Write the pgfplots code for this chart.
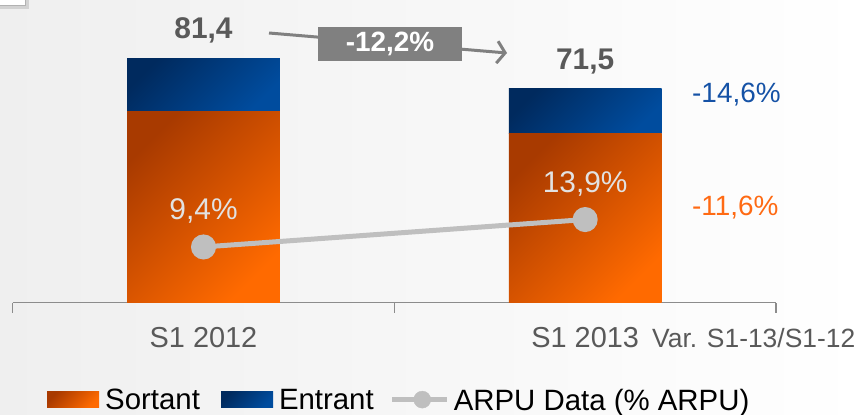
\documentclass[border=0pt]{standalone}
\usepackage{fontspec}
\setmainfont{Liberation Sans}
\usepackage{pgfplots}
\pgfplotsset{compat=1.18}
\usetikzlibrary{arrows.meta}

\definecolor{orDark}{HTML}{A83A00}
\definecolor{orLight}{HTML}{FF6A00}
\definecolor{blDark}{HTML}{002A5E}
\definecolor{blLight}{HTML}{004C9E}
\definecolor{txtGray}{HTML}{595959}
\definecolor{lineGray}{HTML}{BFBFBF}
\definecolor{axGray}{HTML}{8C8C8C}
\definecolor{arrGray}{HTML}{808080}
\definecolor{varBlue}{HTML}{1552A6}
\definecolor{varOrange}{HTML}{FF6A13}
\definecolor{bgLeft}{HTML}{EFEFEF}
\definecolor{lblWhite}{HTML}{E2E2E2}

\newcommand{\fs}[1]{\fontsize{#1}{#1}\selectfont}

\tikzset{
  sortant/.style={draw=none, top color=orDark, bottom color=orLight, shading angle=45},
  entrant/.style={draw=none, top color=blDark, bottom color=blLight, shading angle=45},
}
\pgfplotsset{
  frame/.style={at={(12.7bp,112.3bp)}, anchor=south west,
    scale only axis, width=763.3bp, height=299.4bp,
    xmin=-0.5, xmax=1.5, clip=false},
}

\begin{document}
\begin{tikzpicture}
\useasboundingbox (0,0) rectangle (864bp,415bp);
\shade[left color=bgLeft, right color=white] (0,0) rectangle (864bp,415bp);
% corner of a box in the top left
\fill[gray!35] (0,406bp) rectangle (29bp,415bp);
\fill[white, draw=gray!60] (-1bp,410bp) rectangle (25bp,416bp);

% S1 2012 bars, axis line and legend
\begin{axis}[frame, ymin=0, ymax=100,
  ybar stacked, bar width=0.4,
  axis y line=none,
  axis x line*=bottom,
  axis line style={axGray, line width=1.5bp, -},
  xtick={-0.5,0.5,1.5}, xticklabels={},
  tick align=outside, major tick length=10bp,
  tick style={axGray, line width=1.5bp},
  extra x ticks={0,1},
  extra x tick labels={S1 2012, S1 2013},
  extra x tick style={tick style={draw=none}},
  xticklabel style={font=\fs{29}, text=txtGray, anchor=base, yshift=-34.5bp},
  legend style={at={(0.045,-0.326)}, anchor=west, draw=none, fill=none,
    inner sep=0pt, font=\fs{29.5}, nodes={inner sep=0pt},
    /tikz/every odd column/.append style={column sep=6bp},
    /tikz/every even column/.append style={column sep=21bp}},
  legend columns=3,
]
\addplot[sortant,
  legend image code/.code={\fill[sortant] (0bp,-7bp) rectangle (52bp,9bp);}]
  coordinates {(0,63.8)};
\addplot[entrant,
  legend image code/.code={\fill[entrant] (0bp,-7bp) rectangle (52bp,9bp);}]
  coordinates {(0,17.6)};
\addlegendimage{legend image code/.code={
  \draw[lineGray, line width=5bp] (0bp,0.7bp) -- (55bp,0.7bp);
  \fill[lineGray] (30bp,0.7bp) circle (8.5bp);}}
\legend{Sortant, Entrant\kern-5bp\relax, \kern-2bp\relax ARPU Data (\% ARPU)}

\node[font=\bfseries\fs{30}, text=txtGray, anchor=base, yshift=20bp] at (axis cs:0,81.4) {81,4};
\end{axis}

% S1 2013 bars
\begin{axis}[frame, ymin=0, ymax=100, hide axis,
  ybar stacked, bar width=0.4]
\addplot[sortant] coordinates {(1,56.5)};
\addplot[entrant] coordinates {(1,15.0)};
\node[font=\bfseries\fs{30}, text=txtGray, anchor=base, yshift=19bp] at (axis cs:1,71.5) {71,5};
\end{axis}

% ARPU Data line, own scale
\begin{axis}[frame, ymin=0.25, ymax=49.4, hide axis,
  /pgf/number format/assume math mode=true]
\addplot[lineGray, line width=5bp, mark=*, mark size=10bp,
  mark options={fill=lineGray, draw=none},
  nodes near coords={\pgfmathprintnumber[fixed,fixed zerofill,precision=1,use comma]{\pgfplotspointmeta}\%},
  every node near coord/.append style={font=\fs{30}, text=lblWhite, anchor=base, yshift=27.5bp}]
  coordinates {(0,9.4) (1,13.9)};
\end{axis}

% year-on-year change arrow
\draw[arrGray, line width=3bp, -{Straight Barb[length=8bp, width=22bp, line width=3bp]}]
  (269bp,382bp) -- (507bp,362bp);
\node[fill=arrGray, minimum width=144bp, minimum height=34bp, inner sep=0pt,
  text=white, font=\bfseries\fs{28}] at (390bp,371bp) {-12,2\%};

% variation column
\node[anchor=base west, inner sep=0pt, font=\fs{28}, text=varBlue] at (692bp,312.3bp) {-14,6\%};
\node[anchor=base west, inner sep=0pt, font=\fs{28}, text=varOrange] at (692bp,199bp) {-11,6\%};
\node[anchor=base west, inner sep=0pt, font=\fs{26.5}, text=txtGray] at (652bp,67.5bp) {Var. S1-13/S1-12};
\end{tikzpicture}
\end{document}
